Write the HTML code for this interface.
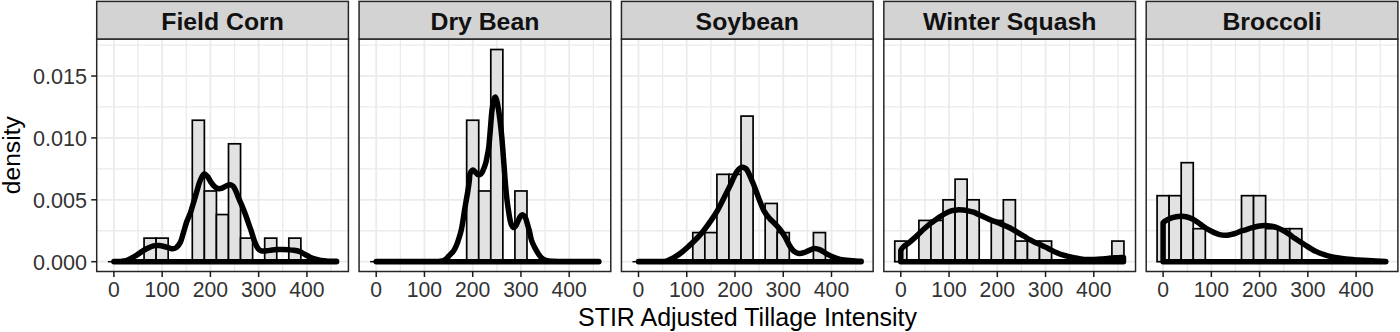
<!DOCTYPE html><html><head><meta charset="utf-8"><style>html,body{margin:0;padding:0;background:#fff;}svg{display:block;}text{font-family:"Liberation Sans",sans-serif;}</style></head><body>
<svg width="1400" height="332" viewBox="0 0 1400 332">
<rect width="1400" height="332" fill="#fff"/>
<line x1="138.03" y1="39.00" x2="138.03" y2="271.50" stroke="#EBEBEB" stroke-width="1.3"/>
<line x1="186.28" y1="39.00" x2="186.28" y2="271.50" stroke="#EBEBEB" stroke-width="1.3"/>
<line x1="234.53" y1="39.00" x2="234.53" y2="271.50" stroke="#EBEBEB" stroke-width="1.3"/>
<line x1="282.77" y1="39.00" x2="282.77" y2="271.50" stroke="#EBEBEB" stroke-width="1.3"/>
<line x1="331.02" y1="39.00" x2="331.02" y2="271.50" stroke="#EBEBEB" stroke-width="1.3"/>
<line x1="96.70" y1="230.75" x2="348.40" y2="230.75" stroke="#EBEBEB" stroke-width="1.3"/>
<line x1="96.70" y1="168.87" x2="348.40" y2="168.87" stroke="#EBEBEB" stroke-width="1.3"/>
<line x1="96.70" y1="106.97" x2="348.40" y2="106.97" stroke="#EBEBEB" stroke-width="1.3"/>
<line x1="96.70" y1="45.08" x2="348.40" y2="45.08" stroke="#EBEBEB" stroke-width="1.3"/>
<line x1="113.90" y1="39.00" x2="113.90" y2="271.50" stroke="#EBEBEB" stroke-width="1.8"/>
<line x1="162.15" y1="39.00" x2="162.15" y2="271.50" stroke="#EBEBEB" stroke-width="1.8"/>
<line x1="210.40" y1="39.00" x2="210.40" y2="271.50" stroke="#EBEBEB" stroke-width="1.8"/>
<line x1="258.65" y1="39.00" x2="258.65" y2="271.50" stroke="#EBEBEB" stroke-width="1.8"/>
<line x1="306.90" y1="39.00" x2="306.90" y2="271.50" stroke="#EBEBEB" stroke-width="1.8"/>
<line x1="96.70" y1="261.70" x2="348.40" y2="261.70" stroke="#EBEBEB" stroke-width="1.8"/>
<line x1="96.70" y1="199.81" x2="348.40" y2="199.81" stroke="#EBEBEB" stroke-width="1.8"/>
<line x1="96.70" y1="137.92" x2="348.40" y2="137.92" stroke="#EBEBEB" stroke-width="1.8"/>
<line x1="96.70" y1="76.03" x2="348.40" y2="76.03" stroke="#EBEBEB" stroke-width="1.8"/>
<line x1="107.87" y1="261.70" x2="119.93" y2="261.70" stroke="#000" stroke-width="1.5"/>
<line x1="119.93" y1="261.70" x2="131.99" y2="261.70" stroke="#000" stroke-width="1.5"/>
<line x1="131.99" y1="261.70" x2="144.06" y2="261.70" stroke="#000" stroke-width="1.5"/>
<rect x="144.06" y="238.12" width="12.06" height="23.58" fill="#E2E2E2" stroke="#000" stroke-width="1.7"/>
<rect x="156.12" y="238.12" width="12.06" height="23.58" fill="#E2E2E2" stroke="#000" stroke-width="1.7"/>
<line x1="168.18" y1="261.70" x2="180.24" y2="261.70" stroke="#000" stroke-width="1.5"/>
<line x1="180.24" y1="261.70" x2="192.31" y2="261.70" stroke="#000" stroke-width="1.5"/>
<rect x="192.31" y="120.24" width="12.06" height="141.46" fill="#E2E2E2" stroke="#000" stroke-width="1.7"/>
<rect x="204.37" y="190.97" width="12.06" height="70.73" fill="#E2E2E2" stroke="#000" stroke-width="1.7"/>
<rect x="216.43" y="214.55" width="12.06" height="47.15" fill="#E2E2E2" stroke="#000" stroke-width="1.7"/>
<rect x="228.49" y="143.81" width="12.06" height="117.89" fill="#E2E2E2" stroke="#000" stroke-width="1.7"/>
<rect x="240.56" y="238.12" width="12.06" height="23.58" fill="#E2E2E2" stroke="#000" stroke-width="1.7"/>
<line x1="252.62" y1="261.70" x2="264.68" y2="261.70" stroke="#000" stroke-width="1.5"/>
<rect x="264.68" y="238.12" width="12.06" height="23.58" fill="#E2E2E2" stroke="#000" stroke-width="1.7"/>
<line x1="276.74" y1="261.70" x2="288.81" y2="261.70" stroke="#000" stroke-width="1.5"/>
<rect x="288.81" y="238.12" width="12.06" height="23.58" fill="#E2E2E2" stroke="#000" stroke-width="1.7"/>
<line x1="300.87" y1="261.70" x2="312.93" y2="261.70" stroke="#000" stroke-width="1.5"/>
<line x1="312.93" y1="261.70" x2="324.99" y2="261.70" stroke="#000" stroke-width="1.5"/>
<line x1="324.99" y1="261.70" x2="337.06" y2="261.70" stroke="#000" stroke-width="1.5"/>
<path d="M113.90 261.70 L113.90 261.40  C115.05 261.39 118.73 261.50 120.80 261.37 C122.87 261.25 124.48 261.23 126.30 260.65 C128.12 260.07 129.90 258.82 131.70 257.87 C133.50 256.92 135.30 256.08 137.10 254.95 C138.90 253.82 140.68 252.23 142.50 251.09 C144.32 249.95 146.18 248.96 148.00 248.09 C149.82 247.22 151.60 246.28 153.40 245.86 C155.20 245.44 157.00 245.45 158.80 245.56 C160.60 245.67 162.38 246.09 164.20 246.51 C166.02 246.93 168.30 247.67 169.70 248.06 C171.10 248.45 171.48 248.92 172.60 248.83 C173.72 248.74 175.08 248.68 176.40 247.54 C177.72 246.40 179.33 244.44 180.50 241.98 C181.67 239.52 182.32 236.26 183.40 232.77 C184.48 229.28 185.85 224.29 187.00 221.03 C188.15 217.77 189.37 215.78 190.30 213.22 C191.23 210.66 191.85 208.16 192.60 205.69 C193.35 203.22 194.07 200.88 194.80 198.40 C195.53 195.92 196.25 193.38 197.00 190.80 C197.75 188.22 198.50 185.21 199.30 182.92 C200.10 180.63 200.95 178.54 201.80 177.04 C202.65 175.54 203.42 173.96 204.40 173.90 C205.38 173.84 206.55 175.23 207.70 176.70 C208.85 178.17 210.10 181.00 211.30 182.70 C212.50 184.40 213.70 185.89 214.90 186.90 C216.10 187.91 217.30 188.53 218.50 188.74 C219.70 188.95 220.90 188.60 222.10 188.18 C223.30 187.76 224.35 186.81 225.70 186.23 C227.05 185.65 228.90 184.61 230.20 184.68 C231.50 184.75 232.62 185.70 233.50 186.65 C234.38 187.60 234.80 188.87 235.50 190.37 C236.20 191.87 237.00 193.93 237.70 195.64 C238.40 197.35 239.00 198.95 239.70 200.61 C240.40 202.27 241.13 203.76 241.90 205.59 C242.67 207.42 243.52 209.57 244.30 211.60 C245.08 213.63 245.83 215.63 246.60 217.77 C247.37 219.91 248.15 222.30 248.90 224.44 C249.65 226.58 250.17 227.83 251.10 230.63 C252.03 233.43 253.37 238.28 254.50 241.25 C255.63 244.22 256.77 246.81 257.90 248.42 C259.03 250.03 259.83 250.54 261.30 250.93 C262.77 251.32 264.90 250.93 266.70 250.77 C268.50 250.62 270.30 250.20 272.10 250.00 C273.90 249.80 275.68 249.62 277.50 249.55 C279.32 249.48 281.18 249.55 283.00 249.59 C284.82 249.63 286.60 249.71 288.40 249.81 C290.20 249.91 292.00 249.93 293.80 250.19 C295.60 250.45 297.38 250.71 299.20 251.39 C301.02 252.07 302.88 253.32 304.70 254.28 C306.52 255.24 308.30 256.31 310.10 257.13 C311.90 257.95 313.70 258.62 315.50 259.19 C317.30 259.76 318.82 260.24 320.90 260.57 C322.98 260.90 325.39 261.08 328.00 261.20 C330.61 261.32 335.14 261.29 336.57 261.31 L336.57 261.70 Z" fill="none" stroke="#000" stroke-width="5.5" stroke-linejoin="round" stroke-linecap="round"/>
<rect x="96.70" y="39.00" width="251.70" height="232.50" fill="none" stroke="#262626" stroke-width="1.5"/>
<rect x="96.70" y="1.40" width="251.70" height="37.60" fill="#D3D3D3" stroke="#262626" stroke-width="1.5"/>
<text x="222.55" y="29.8" text-anchor="middle" font-size="24.8" font-weight="bold" fill="#111">Field Corn</text>
<line x1="113.90" y1="271.50" x2="113.90" y2="277.00" stroke="#1a1a1a" stroke-width="1.5"/>
<text x="113.90" y="296.9" text-anchor="middle" font-size="21.2" fill="#333">0</text>
<line x1="162.15" y1="271.50" x2="162.15" y2="277.00" stroke="#1a1a1a" stroke-width="1.5"/>
<text x="162.15" y="296.9" text-anchor="middle" font-size="21.2" fill="#333">100</text>
<line x1="210.40" y1="271.50" x2="210.40" y2="277.00" stroke="#1a1a1a" stroke-width="1.5"/>
<text x="210.40" y="296.9" text-anchor="middle" font-size="21.2" fill="#333">200</text>
<line x1="258.65" y1="271.50" x2="258.65" y2="277.00" stroke="#1a1a1a" stroke-width="1.5"/>
<text x="258.65" y="296.9" text-anchor="middle" font-size="21.2" fill="#333">300</text>
<line x1="306.90" y1="271.50" x2="306.90" y2="277.00" stroke="#1a1a1a" stroke-width="1.5"/>
<text x="306.90" y="296.9" text-anchor="middle" font-size="21.2" fill="#333">400</text>
<line x1="400.33" y1="39.00" x2="400.33" y2="271.50" stroke="#EBEBEB" stroke-width="1.3"/>
<line x1="448.58" y1="39.00" x2="448.58" y2="271.50" stroke="#EBEBEB" stroke-width="1.3"/>
<line x1="496.83" y1="39.00" x2="496.83" y2="271.50" stroke="#EBEBEB" stroke-width="1.3"/>
<line x1="545.08" y1="39.00" x2="545.08" y2="271.50" stroke="#EBEBEB" stroke-width="1.3"/>
<line x1="593.33" y1="39.00" x2="593.33" y2="271.50" stroke="#EBEBEB" stroke-width="1.3"/>
<line x1="359.07" y1="230.75" x2="610.77" y2="230.75" stroke="#EBEBEB" stroke-width="1.3"/>
<line x1="359.07" y1="168.87" x2="610.77" y2="168.87" stroke="#EBEBEB" stroke-width="1.3"/>
<line x1="359.07" y1="106.97" x2="610.77" y2="106.97" stroke="#EBEBEB" stroke-width="1.3"/>
<line x1="359.07" y1="45.08" x2="610.77" y2="45.08" stroke="#EBEBEB" stroke-width="1.3"/>
<line x1="376.20" y1="39.00" x2="376.20" y2="271.50" stroke="#EBEBEB" stroke-width="1.8"/>
<line x1="424.45" y1="39.00" x2="424.45" y2="271.50" stroke="#EBEBEB" stroke-width="1.8"/>
<line x1="472.70" y1="39.00" x2="472.70" y2="271.50" stroke="#EBEBEB" stroke-width="1.8"/>
<line x1="520.95" y1="39.00" x2="520.95" y2="271.50" stroke="#EBEBEB" stroke-width="1.8"/>
<line x1="569.20" y1="39.00" x2="569.20" y2="271.50" stroke="#EBEBEB" stroke-width="1.8"/>
<line x1="359.07" y1="261.70" x2="610.77" y2="261.70" stroke="#EBEBEB" stroke-width="1.8"/>
<line x1="359.07" y1="199.81" x2="610.77" y2="199.81" stroke="#EBEBEB" stroke-width="1.8"/>
<line x1="359.07" y1="137.92" x2="610.77" y2="137.92" stroke="#EBEBEB" stroke-width="1.8"/>
<line x1="359.07" y1="76.03" x2="610.77" y2="76.03" stroke="#EBEBEB" stroke-width="1.8"/>
<line x1="370.17" y1="261.70" x2="382.23" y2="261.70" stroke="#000" stroke-width="1.5"/>
<line x1="382.23" y1="261.70" x2="394.29" y2="261.70" stroke="#000" stroke-width="1.5"/>
<line x1="394.29" y1="261.70" x2="406.36" y2="261.70" stroke="#000" stroke-width="1.5"/>
<line x1="406.36" y1="261.70" x2="418.42" y2="261.70" stroke="#000" stroke-width="1.5"/>
<line x1="418.42" y1="261.70" x2="430.48" y2="261.70" stroke="#000" stroke-width="1.5"/>
<line x1="430.48" y1="261.70" x2="442.54" y2="261.70" stroke="#000" stroke-width="1.5"/>
<line x1="442.54" y1="261.70" x2="454.61" y2="261.70" stroke="#000" stroke-width="1.5"/>
<line x1="454.61" y1="261.70" x2="466.67" y2="261.70" stroke="#000" stroke-width="1.5"/>
<rect x="466.67" y="120.24" width="12.06" height="141.46" fill="#E2E2E2" stroke="#000" stroke-width="1.7"/>
<rect x="478.73" y="190.97" width="12.06" height="70.73" fill="#E2E2E2" stroke="#000" stroke-width="1.7"/>
<rect x="490.79" y="49.51" width="12.06" height="212.19" fill="#E2E2E2" stroke="#000" stroke-width="1.7"/>
<line x1="502.86" y1="261.70" x2="514.92" y2="261.70" stroke="#000" stroke-width="1.5"/>
<rect x="514.92" y="190.97" width="12.06" height="70.73" fill="#E2E2E2" stroke="#000" stroke-width="1.7"/>
<line x1="526.98" y1="261.70" x2="539.04" y2="261.70" stroke="#000" stroke-width="1.5"/>
<line x1="539.04" y1="261.70" x2="551.11" y2="261.70" stroke="#000" stroke-width="1.5"/>
<line x1="551.11" y1="261.70" x2="563.17" y2="261.70" stroke="#000" stroke-width="1.5"/>
<line x1="563.17" y1="261.70" x2="575.23" y2="261.70" stroke="#000" stroke-width="1.5"/>
<line x1="575.23" y1="261.70" x2="587.29" y2="261.70" stroke="#000" stroke-width="1.5"/>
<line x1="587.29" y1="261.70" x2="599.36" y2="261.70" stroke="#000" stroke-width="1.5"/>
<path d="M376.20 261.70 L376.20 261.50  C385.17 261.50 419.37 261.53 430.00 261.50 C440.63 261.47 437.52 261.57 440.00 261.30 C442.48 261.03 443.42 260.78 444.90 259.90 C446.38 259.02 447.43 257.53 448.90 256.00 C450.37 254.47 452.40 252.58 453.70 250.70 C455.00 248.82 455.80 246.85 456.70 244.70 C457.60 242.55 458.33 240.28 459.10 237.80 C459.87 235.32 460.65 232.68 461.30 229.80 C461.95 226.92 462.47 223.72 463.00 220.50 C463.53 217.28 463.97 213.83 464.50 210.50 C465.03 207.17 465.67 203.58 466.20 200.50 C466.73 197.42 467.18 195.25 467.70 192.00 C468.22 188.75 468.92 184.00 469.30 181.00 C469.68 178.00 469.43 175.83 470.00 174.00 C470.57 172.17 471.78 170.30 472.70 170.00 C473.62 169.70 474.62 171.43 475.50 172.20 C476.38 172.97 477.08 174.33 478.00 174.60 C478.92 174.87 480.17 174.48 481.00 173.80 C481.83 173.12 482.23 172.22 483.00 170.50 C483.77 168.78 484.92 165.83 485.60 163.50 C486.28 161.17 486.57 159.25 487.10 156.50 C487.63 153.75 488.27 151.42 488.80 147.00 C489.33 142.58 489.80 135.83 490.30 130.00 C490.80 124.17 491.28 116.75 491.80 112.00 C492.32 107.25 492.87 103.97 493.40 101.50 C493.93 99.03 494.47 97.45 495.00 97.20 C495.53 96.95 496.02 97.95 496.60 100.00 C497.18 102.05 497.88 105.67 498.50 109.50 C499.12 113.33 499.75 118.42 500.30 123.00 C500.85 127.58 501.35 132.17 501.80 137.00 C502.25 141.83 502.60 146.83 503.00 152.00 C503.40 157.17 503.78 162.50 504.20 168.00 C504.62 173.50 505.03 179.67 505.50 185.00 C505.97 190.33 506.48 195.62 507.00 200.00 C507.52 204.38 508.10 208.03 508.60 211.30 C509.10 214.57 509.50 217.28 510.00 219.60 C510.50 221.92 511.02 223.88 511.60 225.20 C512.18 226.52 512.85 227.33 513.50 227.50 C514.15 227.67 514.82 227.12 515.50 226.20 C516.18 225.28 516.85 223.53 517.60 222.00 C518.35 220.47 519.25 218.18 520.00 217.00 C520.75 215.82 521.43 215.10 522.10 214.90 C522.77 214.70 523.42 215.28 524.00 215.80 C524.58 216.32 525.03 216.63 525.60 218.00 C526.17 219.37 526.75 221.75 527.40 224.00 C528.05 226.25 528.80 228.75 529.50 231.50 C530.20 234.25 530.68 237.75 531.60 240.50 C532.52 243.25 533.85 245.75 535.00 248.00 C536.15 250.25 537.42 252.37 538.50 254.00 C539.58 255.63 540.25 256.75 541.50 257.80 C542.75 258.85 544.25 259.73 546.00 260.30 C547.75 260.87 549.67 261.02 552.00 261.20 C554.33 261.38 552.19 261.35 560.00 261.40 C567.81 261.45 592.39 261.48 598.87 261.50 L598.87 261.70 Z" fill="none" stroke="#000" stroke-width="5.5" stroke-linejoin="round" stroke-linecap="round"/>
<rect x="359.07" y="39.00" width="251.70" height="232.50" fill="none" stroke="#262626" stroke-width="1.5"/>
<rect x="359.07" y="1.40" width="251.70" height="37.60" fill="#D3D3D3" stroke="#262626" stroke-width="1.5"/>
<text x="484.92" y="29.8" text-anchor="middle" font-size="24.8" font-weight="bold" fill="#111">Dry Bean</text>
<line x1="376.20" y1="271.50" x2="376.20" y2="277.00" stroke="#1a1a1a" stroke-width="1.5"/>
<text x="376.20" y="296.9" text-anchor="middle" font-size="21.2" fill="#333">0</text>
<line x1="424.45" y1="271.50" x2="424.45" y2="277.00" stroke="#1a1a1a" stroke-width="1.5"/>
<text x="424.45" y="296.9" text-anchor="middle" font-size="21.2" fill="#333">100</text>
<line x1="472.70" y1="271.50" x2="472.70" y2="277.00" stroke="#1a1a1a" stroke-width="1.5"/>
<text x="472.70" y="296.9" text-anchor="middle" font-size="21.2" fill="#333">200</text>
<line x1="520.95" y1="271.50" x2="520.95" y2="277.00" stroke="#1a1a1a" stroke-width="1.5"/>
<text x="520.95" y="296.9" text-anchor="middle" font-size="21.2" fill="#333">300</text>
<line x1="569.20" y1="271.50" x2="569.20" y2="277.00" stroke="#1a1a1a" stroke-width="1.5"/>
<text x="569.20" y="296.9" text-anchor="middle" font-size="21.2" fill="#333">400</text>
<line x1="662.62" y1="39.00" x2="662.62" y2="271.50" stroke="#EBEBEB" stroke-width="1.3"/>
<line x1="710.88" y1="39.00" x2="710.88" y2="271.50" stroke="#EBEBEB" stroke-width="1.3"/>
<line x1="759.12" y1="39.00" x2="759.12" y2="271.50" stroke="#EBEBEB" stroke-width="1.3"/>
<line x1="807.38" y1="39.00" x2="807.38" y2="271.50" stroke="#EBEBEB" stroke-width="1.3"/>
<line x1="855.62" y1="39.00" x2="855.62" y2="271.50" stroke="#EBEBEB" stroke-width="1.3"/>
<line x1="621.45" y1="230.75" x2="873.15" y2="230.75" stroke="#EBEBEB" stroke-width="1.3"/>
<line x1="621.45" y1="168.87" x2="873.15" y2="168.87" stroke="#EBEBEB" stroke-width="1.3"/>
<line x1="621.45" y1="106.97" x2="873.15" y2="106.97" stroke="#EBEBEB" stroke-width="1.3"/>
<line x1="621.45" y1="45.08" x2="873.15" y2="45.08" stroke="#EBEBEB" stroke-width="1.3"/>
<line x1="638.50" y1="39.00" x2="638.50" y2="271.50" stroke="#EBEBEB" stroke-width="1.8"/>
<line x1="686.75" y1="39.00" x2="686.75" y2="271.50" stroke="#EBEBEB" stroke-width="1.8"/>
<line x1="735.00" y1="39.00" x2="735.00" y2="271.50" stroke="#EBEBEB" stroke-width="1.8"/>
<line x1="783.25" y1="39.00" x2="783.25" y2="271.50" stroke="#EBEBEB" stroke-width="1.8"/>
<line x1="831.50" y1="39.00" x2="831.50" y2="271.50" stroke="#EBEBEB" stroke-width="1.8"/>
<line x1="621.45" y1="261.70" x2="873.15" y2="261.70" stroke="#EBEBEB" stroke-width="1.8"/>
<line x1="621.45" y1="199.81" x2="873.15" y2="199.81" stroke="#EBEBEB" stroke-width="1.8"/>
<line x1="621.45" y1="137.92" x2="873.15" y2="137.92" stroke="#EBEBEB" stroke-width="1.8"/>
<line x1="621.45" y1="76.03" x2="873.15" y2="76.03" stroke="#EBEBEB" stroke-width="1.8"/>
<line x1="632.47" y1="261.70" x2="644.53" y2="261.70" stroke="#000" stroke-width="1.5"/>
<line x1="644.53" y1="261.70" x2="656.59" y2="261.70" stroke="#000" stroke-width="1.5"/>
<line x1="656.59" y1="261.70" x2="668.66" y2="261.70" stroke="#000" stroke-width="1.5"/>
<line x1="668.66" y1="261.70" x2="680.72" y2="261.70" stroke="#000" stroke-width="1.5"/>
<line x1="680.72" y1="261.70" x2="692.78" y2="261.70" stroke="#000" stroke-width="1.5"/>
<rect x="692.78" y="232.58" width="12.06" height="29.12" fill="#E2E2E2" stroke="#000" stroke-width="1.7"/>
<rect x="704.84" y="232.58" width="12.06" height="29.12" fill="#E2E2E2" stroke="#000" stroke-width="1.7"/>
<rect x="716.91" y="174.33" width="12.06" height="87.37" fill="#E2E2E2" stroke="#000" stroke-width="1.7"/>
<rect x="728.97" y="174.33" width="12.06" height="87.37" fill="#E2E2E2" stroke="#000" stroke-width="1.7"/>
<rect x="741.03" y="116.08" width="12.06" height="145.62" fill="#E2E2E2" stroke="#000" stroke-width="1.7"/>
<line x1="753.09" y1="261.70" x2="765.16" y2="261.70" stroke="#000" stroke-width="1.5"/>
<rect x="765.16" y="203.45" width="12.06" height="58.25" fill="#E2E2E2" stroke="#000" stroke-width="1.7"/>
<rect x="777.22" y="232.58" width="12.06" height="29.12" fill="#E2E2E2" stroke="#000" stroke-width="1.7"/>
<line x1="789.28" y1="261.70" x2="801.34" y2="261.70" stroke="#000" stroke-width="1.5"/>
<line x1="801.34" y1="261.70" x2="813.41" y2="261.70" stroke="#000" stroke-width="1.5"/>
<rect x="813.41" y="232.58" width="12.06" height="29.12" fill="#E2E2E2" stroke="#000" stroke-width="1.7"/>
<line x1="825.47" y1="261.70" x2="837.53" y2="261.70" stroke="#000" stroke-width="1.5"/>
<line x1="837.53" y1="261.70" x2="849.59" y2="261.70" stroke="#000" stroke-width="1.5"/>
<line x1="849.59" y1="261.70" x2="861.66" y2="261.70" stroke="#000" stroke-width="1.5"/>
<path d="M638.50 261.70 L638.50 261.50  C640.42 261.50 646.75 261.50 650.00 261.50 C653.25 261.50 655.57 261.50 658.00 261.50 C660.43 261.50 662.68 261.79 664.60 261.50 C666.52 261.21 667.88 260.43 669.50 259.75 C671.12 259.07 672.30 258.60 674.30 257.40 C676.30 256.20 679.10 254.40 681.50 252.54 C683.90 250.68 686.28 248.43 688.70 246.22 C691.12 244.01 693.58 241.78 696.00 239.27 C698.42 236.76 700.80 234.16 703.20 231.18 C705.60 228.20 707.98 224.93 710.40 221.41 C712.82 217.89 715.28 214.27 717.70 210.04 C720.12 205.81 722.90 199.95 724.90 196.00 C726.90 192.05 727.95 189.99 729.70 186.35 C731.45 182.71 733.88 177.02 735.40 174.15 C736.92 171.28 737.63 170.32 738.80 169.16 C739.97 168.00 741.27 167.31 742.40 167.20 C743.53 167.09 744.67 167.75 745.60 168.50 C746.53 169.25 746.68 169.07 748.00 171.70 C749.32 174.33 751.68 179.80 753.50 184.30 C755.32 188.80 757.10 194.18 758.90 198.70 C760.70 203.22 762.50 208.08 764.30 211.40 C766.10 214.72 767.90 216.50 769.70 218.60 C771.50 220.70 773.38 222.18 775.10 224.00 C776.82 225.82 778.35 227.37 780.00 229.50 C781.65 231.63 783.42 234.13 785.00 236.80 C786.58 239.47 788.08 243.17 789.50 245.50 C790.92 247.83 791.92 249.48 793.50 250.80 C795.08 252.12 796.98 253.20 799.00 253.40 C801.02 253.60 803.10 252.80 805.60 252.00 C808.10 251.20 811.50 248.92 814.00 248.60 C816.50 248.28 818.48 249.22 820.60 250.10 C822.72 250.98 824.68 252.77 826.70 253.90 C828.72 255.03 830.45 255.98 832.70 256.90 C834.95 257.82 837.45 258.78 840.20 259.40 C842.95 260.02 845.70 260.28 849.20 260.60 C852.70 260.92 859.18 261.18 861.17 261.30 L861.17 261.70 Z" fill="none" stroke="#000" stroke-width="5.5" stroke-linejoin="round" stroke-linecap="round"/>
<rect x="621.45" y="39.00" width="251.70" height="232.50" fill="none" stroke="#262626" stroke-width="1.5"/>
<rect x="621.45" y="1.40" width="251.70" height="37.60" fill="#D3D3D3" stroke="#262626" stroke-width="1.5"/>
<text x="747.30" y="29.8" text-anchor="middle" font-size="24.8" font-weight="bold" fill="#111">Soybean</text>
<line x1="638.50" y1="271.50" x2="638.50" y2="277.00" stroke="#1a1a1a" stroke-width="1.5"/>
<text x="638.50" y="296.9" text-anchor="middle" font-size="21.2" fill="#333">0</text>
<line x1="686.75" y1="271.50" x2="686.75" y2="277.00" stroke="#1a1a1a" stroke-width="1.5"/>
<text x="686.75" y="296.9" text-anchor="middle" font-size="21.2" fill="#333">100</text>
<line x1="735.00" y1="271.50" x2="735.00" y2="277.00" stroke="#1a1a1a" stroke-width="1.5"/>
<text x="735.00" y="296.9" text-anchor="middle" font-size="21.2" fill="#333">200</text>
<line x1="783.25" y1="271.50" x2="783.25" y2="277.00" stroke="#1a1a1a" stroke-width="1.5"/>
<text x="783.25" y="296.9" text-anchor="middle" font-size="21.2" fill="#333">300</text>
<line x1="831.50" y1="271.50" x2="831.50" y2="277.00" stroke="#1a1a1a" stroke-width="1.5"/>
<text x="831.50" y="296.9" text-anchor="middle" font-size="21.2" fill="#333">400</text>
<line x1="924.93" y1="39.00" x2="924.93" y2="271.50" stroke="#EBEBEB" stroke-width="1.3"/>
<line x1="973.18" y1="39.00" x2="973.18" y2="271.50" stroke="#EBEBEB" stroke-width="1.3"/>
<line x1="1021.43" y1="39.00" x2="1021.43" y2="271.50" stroke="#EBEBEB" stroke-width="1.3"/>
<line x1="1069.68" y1="39.00" x2="1069.68" y2="271.50" stroke="#EBEBEB" stroke-width="1.3"/>
<line x1="1117.93" y1="39.00" x2="1117.93" y2="271.50" stroke="#EBEBEB" stroke-width="1.3"/>
<line x1="883.83" y1="230.75" x2="1135.53" y2="230.75" stroke="#EBEBEB" stroke-width="1.3"/>
<line x1="883.83" y1="168.87" x2="1135.53" y2="168.87" stroke="#EBEBEB" stroke-width="1.3"/>
<line x1="883.83" y1="106.97" x2="1135.53" y2="106.97" stroke="#EBEBEB" stroke-width="1.3"/>
<line x1="883.83" y1="45.08" x2="1135.53" y2="45.08" stroke="#EBEBEB" stroke-width="1.3"/>
<line x1="900.80" y1="39.00" x2="900.80" y2="271.50" stroke="#EBEBEB" stroke-width="1.8"/>
<line x1="949.05" y1="39.00" x2="949.05" y2="271.50" stroke="#EBEBEB" stroke-width="1.8"/>
<line x1="997.30" y1="39.00" x2="997.30" y2="271.50" stroke="#EBEBEB" stroke-width="1.8"/>
<line x1="1045.55" y1="39.00" x2="1045.55" y2="271.50" stroke="#EBEBEB" stroke-width="1.8"/>
<line x1="1093.80" y1="39.00" x2="1093.80" y2="271.50" stroke="#EBEBEB" stroke-width="1.8"/>
<line x1="883.83" y1="261.70" x2="1135.53" y2="261.70" stroke="#EBEBEB" stroke-width="1.8"/>
<line x1="883.83" y1="199.81" x2="1135.53" y2="199.81" stroke="#EBEBEB" stroke-width="1.8"/>
<line x1="883.83" y1="137.92" x2="1135.53" y2="137.92" stroke="#EBEBEB" stroke-width="1.8"/>
<line x1="883.83" y1="76.03" x2="1135.53" y2="76.03" stroke="#EBEBEB" stroke-width="1.8"/>
<rect x="894.77" y="241.07" width="12.06" height="20.63" fill="#E2E2E2" stroke="#000" stroke-width="1.7"/>
<line x1="906.83" y1="261.70" x2="918.89" y2="261.70" stroke="#000" stroke-width="1.5"/>
<rect x="918.89" y="220.44" width="12.06" height="41.26" fill="#E2E2E2" stroke="#000" stroke-width="1.7"/>
<rect x="930.96" y="220.44" width="12.06" height="41.26" fill="#E2E2E2" stroke="#000" stroke-width="1.7"/>
<rect x="943.02" y="199.81" width="12.06" height="61.89" fill="#E2E2E2" stroke="#000" stroke-width="1.7"/>
<rect x="955.08" y="179.18" width="12.06" height="82.52" fill="#E2E2E2" stroke="#000" stroke-width="1.7"/>
<rect x="967.14" y="199.81" width="12.06" height="61.89" fill="#E2E2E2" stroke="#000" stroke-width="1.7"/>
<line x1="979.21" y1="261.70" x2="991.27" y2="261.70" stroke="#000" stroke-width="1.5"/>
<rect x="991.27" y="220.44" width="12.06" height="41.26" fill="#E2E2E2" stroke="#000" stroke-width="1.7"/>
<rect x="1003.33" y="199.81" width="12.06" height="61.89" fill="#E2E2E2" stroke="#000" stroke-width="1.7"/>
<rect x="1015.39" y="241.07" width="12.06" height="20.63" fill="#E2E2E2" stroke="#000" stroke-width="1.7"/>
<rect x="1027.46" y="241.07" width="12.06" height="20.63" fill="#E2E2E2" stroke="#000" stroke-width="1.7"/>
<rect x="1039.52" y="241.07" width="12.06" height="20.63" fill="#E2E2E2" stroke="#000" stroke-width="1.7"/>
<line x1="1051.58" y1="261.70" x2="1063.64" y2="261.70" stroke="#000" stroke-width="1.5"/>
<line x1="1063.64" y1="261.70" x2="1075.71" y2="261.70" stroke="#000" stroke-width="1.5"/>
<line x1="1075.71" y1="261.70" x2="1087.77" y2="261.70" stroke="#000" stroke-width="1.5"/>
<line x1="1087.77" y1="261.70" x2="1099.83" y2="261.70" stroke="#000" stroke-width="1.5"/>
<line x1="1099.83" y1="261.70" x2="1111.89" y2="261.70" stroke="#000" stroke-width="1.5"/>
<rect x="1111.89" y="241.07" width="12.06" height="20.63" fill="#E2E2E2" stroke="#000" stroke-width="1.7"/>
<path d="M900.80 261.70 L900.80 250.51  C901.18 249.94 901.80 248.36 903.10 247.12 C904.40 245.88 906.78 244.51 908.60 243.06 C910.42 241.61 912.20 240.04 914.00 238.40 C915.80 236.76 917.60 234.93 919.40 233.24 C921.20 231.55 922.98 229.87 924.80 228.28 C926.62 226.69 928.48 225.12 930.30 223.69 C932.12 222.26 933.90 220.99 935.70 219.72 C937.50 218.45 939.30 217.20 941.10 216.06 C942.90 214.92 944.68 213.77 946.50 212.87 C948.32 211.97 950.18 211.18 952.00 210.68 C953.82 210.18 955.60 209.98 957.40 209.88 C959.20 209.78 961.00 209.93 962.80 210.09 C964.60 210.25 966.40 210.48 968.20 210.83 C970.00 211.18 971.97 211.60 973.60 212.17 C975.23 212.73 976.52 213.53 978.00 214.22 C979.48 214.91 981.12 215.67 982.50 216.30 C983.88 216.93 984.77 217.32 986.30 218.00 C987.83 218.68 989.90 219.68 991.70 220.40 C993.50 221.12 995.30 221.63 997.10 222.33 C998.90 223.03 1000.68 223.83 1002.50 224.60 C1004.32 225.37 1006.18 226.10 1008.00 226.97 C1009.82 227.84 1011.60 228.79 1013.40 229.81 C1015.20 230.83 1017.00 232.01 1018.80 233.09 C1020.60 234.17 1022.38 235.17 1024.20 236.27 C1026.02 237.37 1027.88 238.68 1029.70 239.70 C1031.52 240.72 1033.30 241.57 1035.10 242.40 C1036.90 243.23 1038.75 243.92 1040.50 244.70 C1042.25 245.48 1043.88 246.25 1045.60 247.10 C1047.32 247.95 1049.02 248.91 1050.80 249.80 C1052.58 250.70 1054.48 251.68 1056.30 252.47 C1058.12 253.26 1059.90 253.97 1061.70 254.57 C1063.50 255.17 1065.07 255.53 1067.10 256.06 C1069.13 256.59 1071.63 257.28 1073.90 257.75 C1076.17 258.22 1078.45 258.57 1080.70 258.86 C1082.95 259.15 1085.15 259.38 1087.40 259.48 C1089.65 259.58 1091.93 259.51 1094.20 259.44 C1096.47 259.37 1098.73 259.25 1101.00 259.07 C1103.27 258.89 1105.55 258.60 1107.80 258.39 C1110.05 258.18 1112.25 257.96 1114.50 257.81 C1116.75 257.66 1119.80 257.53 1121.30 257.47 C1122.80 257.41 1123.11 257.44 1123.47 257.44 L1123.47 261.70 Z" fill="none" stroke="#000" stroke-width="5.5" stroke-linejoin="round" stroke-linecap="round"/>
<rect x="883.83" y="39.00" width="251.70" height="232.50" fill="none" stroke="#262626" stroke-width="1.5"/>
<rect x="883.83" y="1.40" width="251.70" height="37.60" fill="#D3D3D3" stroke="#262626" stroke-width="1.5"/>
<text x="1009.68" y="29.8" text-anchor="middle" font-size="24.8" font-weight="bold" fill="#111">Winter Squash</text>
<line x1="900.80" y1="271.50" x2="900.80" y2="277.00" stroke="#1a1a1a" stroke-width="1.5"/>
<text x="900.80" y="296.9" text-anchor="middle" font-size="21.2" fill="#333">0</text>
<line x1="949.05" y1="271.50" x2="949.05" y2="277.00" stroke="#1a1a1a" stroke-width="1.5"/>
<text x="949.05" y="296.9" text-anchor="middle" font-size="21.2" fill="#333">100</text>
<line x1="997.30" y1="271.50" x2="997.30" y2="277.00" stroke="#1a1a1a" stroke-width="1.5"/>
<text x="997.30" y="296.9" text-anchor="middle" font-size="21.2" fill="#333">200</text>
<line x1="1045.55" y1="271.50" x2="1045.55" y2="277.00" stroke="#1a1a1a" stroke-width="1.5"/>
<text x="1045.55" y="296.9" text-anchor="middle" font-size="21.2" fill="#333">300</text>
<line x1="1093.80" y1="271.50" x2="1093.80" y2="277.00" stroke="#1a1a1a" stroke-width="1.5"/>
<text x="1093.80" y="296.9" text-anchor="middle" font-size="21.2" fill="#333">400</text>
<line x1="1187.23" y1="39.00" x2="1187.23" y2="271.50" stroke="#EBEBEB" stroke-width="1.3"/>
<line x1="1235.48" y1="39.00" x2="1235.48" y2="271.50" stroke="#EBEBEB" stroke-width="1.3"/>
<line x1="1283.73" y1="39.00" x2="1283.73" y2="271.50" stroke="#EBEBEB" stroke-width="1.3"/>
<line x1="1331.98" y1="39.00" x2="1331.98" y2="271.50" stroke="#EBEBEB" stroke-width="1.3"/>
<line x1="1380.23" y1="39.00" x2="1380.23" y2="271.50" stroke="#EBEBEB" stroke-width="1.3"/>
<line x1="1146.20" y1="230.75" x2="1397.90" y2="230.75" stroke="#EBEBEB" stroke-width="1.3"/>
<line x1="1146.20" y1="168.87" x2="1397.90" y2="168.87" stroke="#EBEBEB" stroke-width="1.3"/>
<line x1="1146.20" y1="106.97" x2="1397.90" y2="106.97" stroke="#EBEBEB" stroke-width="1.3"/>
<line x1="1146.20" y1="45.08" x2="1397.90" y2="45.08" stroke="#EBEBEB" stroke-width="1.3"/>
<line x1="1163.10" y1="39.00" x2="1163.10" y2="271.50" stroke="#EBEBEB" stroke-width="1.8"/>
<line x1="1211.35" y1="39.00" x2="1211.35" y2="271.50" stroke="#EBEBEB" stroke-width="1.8"/>
<line x1="1259.60" y1="39.00" x2="1259.60" y2="271.50" stroke="#EBEBEB" stroke-width="1.8"/>
<line x1="1307.85" y1="39.00" x2="1307.85" y2="271.50" stroke="#EBEBEB" stroke-width="1.8"/>
<line x1="1356.10" y1="39.00" x2="1356.10" y2="271.50" stroke="#EBEBEB" stroke-width="1.8"/>
<line x1="1146.20" y1="261.70" x2="1397.90" y2="261.70" stroke="#EBEBEB" stroke-width="1.8"/>
<line x1="1146.20" y1="199.81" x2="1397.90" y2="199.81" stroke="#EBEBEB" stroke-width="1.8"/>
<line x1="1146.20" y1="137.92" x2="1397.90" y2="137.92" stroke="#EBEBEB" stroke-width="1.8"/>
<line x1="1146.20" y1="76.03" x2="1397.90" y2="76.03" stroke="#EBEBEB" stroke-width="1.8"/>
<rect x="1157.07" y="195.68" width="12.06" height="66.02" fill="#E2E2E2" stroke="#000" stroke-width="1.7"/>
<rect x="1169.13" y="195.68" width="12.06" height="66.02" fill="#E2E2E2" stroke="#000" stroke-width="1.7"/>
<rect x="1181.19" y="162.68" width="12.06" height="99.02" fill="#E2E2E2" stroke="#000" stroke-width="1.7"/>
<rect x="1193.26" y="228.69" width="12.06" height="33.01" fill="#E2E2E2" stroke="#000" stroke-width="1.7"/>
<line x1="1205.32" y1="261.70" x2="1217.38" y2="261.70" stroke="#000" stroke-width="1.5"/>
<line x1="1217.38" y1="261.70" x2="1229.44" y2="261.70" stroke="#000" stroke-width="1.5"/>
<line x1="1229.44" y1="261.70" x2="1241.51" y2="261.70" stroke="#000" stroke-width="1.5"/>
<rect x="1241.51" y="195.68" width="12.06" height="66.02" fill="#E2E2E2" stroke="#000" stroke-width="1.7"/>
<rect x="1253.57" y="195.68" width="12.06" height="66.02" fill="#E2E2E2" stroke="#000" stroke-width="1.7"/>
<rect x="1265.63" y="228.69" width="12.06" height="33.01" fill="#E2E2E2" stroke="#000" stroke-width="1.7"/>
<rect x="1277.69" y="228.69" width="12.06" height="33.01" fill="#E2E2E2" stroke="#000" stroke-width="1.7"/>
<rect x="1289.76" y="228.69" width="12.06" height="33.01" fill="#E2E2E2" stroke="#000" stroke-width="1.7"/>
<line x1="1301.82" y1="261.70" x2="1313.88" y2="261.70" stroke="#000" stroke-width="1.5"/>
<line x1="1313.88" y1="261.70" x2="1325.94" y2="261.70" stroke="#000" stroke-width="1.5"/>
<line x1="1325.94" y1="261.70" x2="1338.01" y2="261.70" stroke="#000" stroke-width="1.5"/>
<line x1="1338.01" y1="261.70" x2="1350.07" y2="261.70" stroke="#000" stroke-width="1.5"/>
<line x1="1350.07" y1="261.70" x2="1362.13" y2="261.70" stroke="#000" stroke-width="1.5"/>
<line x1="1362.13" y1="261.70" x2="1374.19" y2="261.70" stroke="#000" stroke-width="1.5"/>
<line x1="1374.19" y1="261.70" x2="1386.26" y2="261.70" stroke="#000" stroke-width="1.5"/>
<path d="M1163.10 261.70 L1163.10 222.70  C1163.48 222.39 1164.12 221.64 1165.40 220.87 C1166.68 220.10 1168.98 218.79 1170.80 218.10 C1172.62 217.41 1174.48 217.00 1176.30 216.70 C1178.12 216.40 1179.90 216.26 1181.70 216.31 C1183.50 216.36 1185.30 216.56 1187.10 217.01 C1188.90 217.46 1190.68 218.12 1192.50 219.02 C1194.32 219.92 1196.18 221.17 1198.00 222.42 C1199.82 223.67 1201.60 225.28 1203.40 226.53 C1205.20 227.78 1207.00 228.91 1208.80 229.93 C1210.60 230.95 1212.38 231.84 1214.20 232.63 C1216.02 233.41 1217.88 234.19 1219.70 234.64 C1221.52 235.09 1223.30 235.34 1225.10 235.34 C1226.90 235.34 1228.77 234.97 1230.50 234.65 C1232.23 234.34 1233.88 234.00 1235.50 233.45 C1237.12 232.90 1238.48 231.97 1240.20 231.35 C1241.92 230.73 1243.95 230.32 1245.80 229.76 C1247.65 229.19 1249.48 228.51 1251.30 227.96 C1253.12 227.41 1254.90 226.85 1256.70 226.47 C1258.50 226.09 1260.30 225.80 1262.10 225.67 C1263.90 225.54 1265.68 225.56 1267.50 225.68 C1269.32 225.80 1271.18 225.96 1273.00 226.38 C1274.82 226.80 1276.60 227.43 1278.40 228.18 C1280.20 228.93 1282.00 229.87 1283.80 230.89 C1285.60 231.91 1287.38 233.05 1289.20 234.29 C1291.02 235.53 1292.88 237.05 1294.70 238.30 C1296.52 239.55 1298.30 240.64 1300.10 241.80 C1301.90 242.96 1303.70 244.12 1305.50 245.25 C1307.30 246.38 1309.10 247.53 1310.90 248.59 C1312.70 249.66 1314.50 250.77 1316.30 251.64 C1318.10 252.50 1319.90 253.12 1321.70 253.78 C1323.50 254.44 1325.30 255.10 1327.10 255.63 C1328.90 256.16 1330.23 256.55 1332.50 256.98 C1334.77 257.41 1337.98 257.82 1340.70 258.20 C1343.42 258.58 1346.08 258.97 1348.80 259.26 C1351.52 259.55 1353.83 259.71 1357.00 259.93 C1360.17 260.15 1363.00 260.33 1367.80 260.59 C1372.60 260.85 1382.78 261.36 1385.77 261.51 L1385.77 261.70 Z" fill="none" stroke="#000" stroke-width="5.5" stroke-linejoin="round" stroke-linecap="round"/>
<rect x="1146.20" y="39.00" width="251.70" height="232.50" fill="none" stroke="#262626" stroke-width="1.5"/>
<rect x="1146.20" y="1.40" width="251.70" height="37.60" fill="#D3D3D3" stroke="#262626" stroke-width="1.5"/>
<text x="1272.05" y="29.8" text-anchor="middle" font-size="24.8" font-weight="bold" fill="#111">Broccoli</text>
<line x1="1163.10" y1="271.50" x2="1163.10" y2="277.00" stroke="#1a1a1a" stroke-width="1.5"/>
<text x="1163.10" y="296.9" text-anchor="middle" font-size="21.2" fill="#333">0</text>
<line x1="1211.35" y1="271.50" x2="1211.35" y2="277.00" stroke="#1a1a1a" stroke-width="1.5"/>
<text x="1211.35" y="296.9" text-anchor="middle" font-size="21.2" fill="#333">100</text>
<line x1="1259.60" y1="271.50" x2="1259.60" y2="277.00" stroke="#1a1a1a" stroke-width="1.5"/>
<text x="1259.60" y="296.9" text-anchor="middle" font-size="21.2" fill="#333">200</text>
<line x1="1307.85" y1="271.50" x2="1307.85" y2="277.00" stroke="#1a1a1a" stroke-width="1.5"/>
<text x="1307.85" y="296.9" text-anchor="middle" font-size="21.2" fill="#333">300</text>
<line x1="1356.10" y1="271.50" x2="1356.10" y2="277.00" stroke="#1a1a1a" stroke-width="1.5"/>
<text x="1356.10" y="296.9" text-anchor="middle" font-size="21.2" fill="#333">400</text>
<line x1="91.20" y1="261.70" x2="96.70" y2="261.70" stroke="#1a1a1a" stroke-width="1.5"/>
<text x="87.0" y="270.00" text-anchor="end" font-size="21.6" fill="#333">0.000</text>
<line x1="91.20" y1="199.81" x2="96.70" y2="199.81" stroke="#1a1a1a" stroke-width="1.5"/>
<text x="87.0" y="208.11" text-anchor="end" font-size="21.6" fill="#333">0.005</text>
<line x1="91.20" y1="137.92" x2="96.70" y2="137.92" stroke="#1a1a1a" stroke-width="1.5"/>
<text x="87.0" y="146.22" text-anchor="end" font-size="21.6" fill="#333">0.010</text>
<line x1="91.20" y1="76.03" x2="96.70" y2="76.03" stroke="#1a1a1a" stroke-width="1.5"/>
<text x="87.0" y="84.33" text-anchor="end" font-size="21.6" fill="#333">0.015</text>
<text x="747.5" y="325.6" text-anchor="middle" font-size="25" fill="#000">STIR Adjusted Tillage Intensity</text>
<text transform="translate(19.6 155.2) rotate(-90)" text-anchor="middle" font-size="24.6" fill="#000">density</text>
</svg></body></html>
